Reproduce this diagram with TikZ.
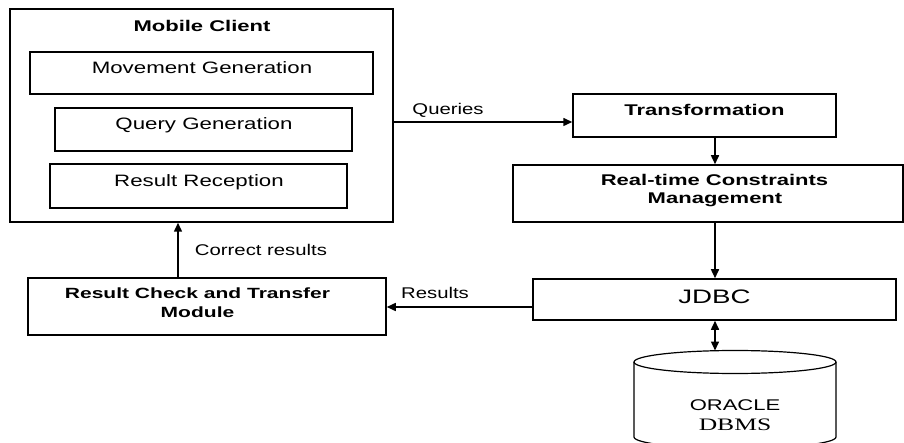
\documentclass[tikz,border=0pt]{standalone}
\usepackage{fontspec}
\usetikzlibrary{arrows.meta}
\newfontfamily\widesans[FakeStretch=1.35]{Liberation Sans}
\newfontfamily\widerbold[FakeStretch=1.42]{Liberation Sans}
\newfontfamily\labelsans[FakeStretch=1.31]{Liberation Sans}
\newfontfamily\wideserif[FakeStretch=1.46]{Liberation Serif}
\tikzset{
  x=1pt, y=-1pt,
  box/.style={draw, line width=1.5pt, inner sep=0pt},
  txt/.style={font=\widesans\fontsize{16.5}{19}\selectfont, inner sep=0pt, anchor=base},
  btxt/.style={font=\widerbold\bfseries\fontsize{15.5}{19}\selectfont, inner sep=0pt, anchor=base},
  lbl/.style={font=\labelsans\fontsize{15.5}{18}\selectfont, inner sep=0pt, anchor=base},
  arr/.style={line width=1.5pt, -{Triangle[length=9pt,width=8pt]}},
  darr/.style={line width=1.5pt, {Triangle[length=9pt,width=8pt]}-{Triangle[length=9pt,width=8pt]}},
}
\begin{document}
\begin{tikzpicture}
\useasboundingbox (0,0) rectangle (904,443);
\clip (0,0) rectangle (904,443);

% mobile client with its three modules
\node[box, minimum width=383pt, minimum height=213pt] (mc) at (201.5,115.5) {};
\node[btxt] (mct) at (202,31.5) {Mobile Client};
\node[box, minimum width=343pt, minimum height=42pt] (mg) at (201.5,73) {};
\node[txt] (mgt) at (202,74) {Movement Generation};
\node[box, minimum width=297pt, minimum height=43pt] (qg) at (203.5,129.5) {};
\node[txt] (qgt) at (204,129.5) {Query Generation};
\node[box, minimum width=297pt, minimum height=44pt] (rr) at (198.5,186) {};
\node[txt] (rrt) at (199,186.5) {Result Reception};

% server side pipeline
\node[box, minimum width=263pt, minimum height=43pt] (tr) at (704.5,115.5) {};
\node[btxt] (trt) at (704.5,116) {Transformation};
\node[box, minimum width=390pt, minimum height=57pt] (rt) at (708,193.5) {};
\node[btxt] (rt1) at (714.5,186) {Real-time Constraints};
\node[btxt] (rt2) at (715,204) {Management};
\node[box, minimum width=363pt, minimum height=41pt] (jd) at (714.5,299.5) {};
\node[font=\widerbold\fontsize{19.5}{24}\selectfont, inner sep=0pt, anchor=base] (jdt) at (714.5,304) {JDBC};

% result check module
\node[box, minimum width=358pt, minimum height=57pt] (rc) at (207,306.5) {};
\node[btxt, font=\widerbold\bfseries\fontsize{14.8}{18}\selectfont] (rc1) at (197.5,298.3) {Result Check and Transfer};
\node[btxt, font=\widerbold\bfseries\fontsize{14.8}{18}\selectfont] (rc2) at (197.5,317.3) {Module};

% database cylinder
\draw[line width=1.2pt, fill=white]
  (634,362) -- (634,437) arc[start angle=180, end angle=0, x radius=101, y radius=11.5]
  -- (836,362);
\draw[line width=1.2pt] (735,362) ellipse[x radius=101, y radius=11.5];
\coordinate (dbtop) at (715,350.5);
\node[font=\widerbold\fontsize{15.5}{19}\selectfont, inner sep=0pt, anchor=base] (ora) at (735,410) {ORACLE};
\node[font=\wideserif\fontsize{17.5}{21}\selectfont, inner sep=0pt, anchor=base] (dbms) at (735,430) {DBMS};

% connectors
\coordinate (qy) at (0,122);
\draw[arr] (mc.east |- qy) -- (tr.west |- qy);
\node[lbl] (ql) at (448,115) {Queries};

\coordinate (vx) at (715,0);
\draw[arr] (tr.south -| vx) -- (rt.north -| vx);
\draw[arr] (rt.south -| vx) -- (jd.north -| vx);
\draw[darr] (jd.south -| vx) -- (dbtop);

\coordinate (ry) at (0,307);
\draw[arr] (jd.west |- ry) -- (rc.east |- ry);
\node[lbl] (rl) at (435,298.3) {Results};

\coordinate (cx) at (178,0);
\draw[arr] (rc.north -| cx) -- (mc.south -| cx);
\node[lbl] (cl) at (261,256) {Correct results};
\end{tikzpicture}
\end{document}
